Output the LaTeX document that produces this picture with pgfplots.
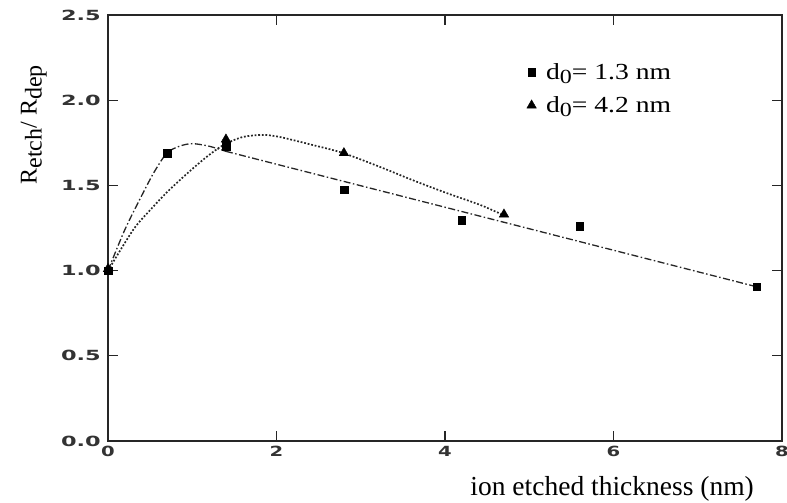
\documentclass[border=0pt]{standalone}
\usepackage{fontspec}
\setmainfont{Liberation Serif}
\newfontfamily\tickfont{DejaVu Sans}
\usepackage{pgfplots}
\pgfplotsset{compat=1.18}

\begin{document}
\begin{tikzpicture}
% fix the page to the reference frame (1px = 1pt)
\useasboundingbox (-108pt,-62pt) rectangle (679pt,441pt);
\begin{axis}[
    scale only axis,
    width=674pt, height=426pt,
    xmin=0, xmax=8, ymin=0, ymax=2.5,
    xtick={0,2,4,6,8}, ytick={0,0.5,1,1.5,2,2.5},
    tick align=inside, major tick length=10pt,
    axis line style={line width=1.6pt, black!85},
    tick style={line width=1.3pt, black!85},
    /pgf/number format/assume math mode=true,
    /pgf/number format/fixed, /pgf/number format/fixed zerofill,
    yticklabel style={/pgf/number format/precision=1, font=\tickfont\bfseries\fontsize{14}{14}\selectfont, text=black!80, xscale=1.6, xshift=-1pt},
    xticklabel style={/pgf/number format/precision=0, font=\tickfont\bfseries\fontsize{14}{14}\selectfont, text=black!80, xscale=1.4, yshift=-2pt},
    xlabel={ion etched thickness (nm)},
    xlabel style={font=\fontsize{27.5}{27.5}\selectfont, at={(axis description cs:0.748,-0.112)}, anchor=center},
    ylabel={R\raisebox{-5pt}{etch}/ R\raisebox{-5pt}{dep}},
    ylabel style={font=\fontsize{24}{24}\selectfont, at={(axis description cs:-0.11,0.742)}, anchor=center},
    legend style={draw=none, fill=none, at={(axis cs:4.92,2.23)}, anchor=north west,
      font=\fontsize{23}{23}\selectfont, row sep=16pt,
      nodes={inner sep=0pt}},
    legend cell align=left,
    legend image code/.code={\path (0,0) (20pt,0); \draw[#1] plot coordinates {(5.7pt,0pt)};},
]
% fitted guides
\addplot[forget plot, line width=1.3pt, black!85, smooth, tension=0.5,
  dash pattern=on 7pt off 2.5pt on 1.5pt off 2.5pt]
  coordinates {(0,1.0) (0.2,1.24) (0.4,1.44) (0.55,1.58) (0.7,1.69) (0.85,1.73) (1.0,1.745) (1.2,1.73) (1.4,1.70)};
\addplot[forget plot, line width=1.3pt, black!85,
  dash pattern=on 7pt off 2.5pt on 1.5pt off 2.5pt]
  coordinates {(1.4,1.70) (7.7,0.905)};
\addplot[forget plot, line width=1.7pt, black!85, smooth, tension=0.5,
  dash pattern=on 1.8pt off 1.8pt]
  coordinates {(0,1.0) (0.30,1.24) (0.50,1.355) (0.70,1.46) (0.94,1.57) (1.17,1.667) (1.37,1.737)
    (1.60,1.784) (1.84,1.796) (2.04,1.784) (2.43,1.737) (2.79,1.69) (3.23,1.608) (3.62,1.53)
    (4.02,1.455) (4.42,1.385) (4.69,1.326)};
% data
\addplot[only marks, mark=square*, mark size=3.8pt, black]
  coordinates {(0,1.0) (0.7,1.69) (1.4,1.73) (2.8,1.475) (4.2,1.297) (5.6,1.262) (7.7,0.905)};
\addlegendentry{\scalebox{1.2}[1]{d\raisebox{-4pt}{\fontsize{20}{20}\selectfont 0}= 1.3 nm}}
\addplot[only marks, mark=triangle*, mark size=5.5pt, black]
  coordinates {(0,1.01) (1.4,1.77) (2.8,1.69) (4.7,1.33)};
\addlegendentry{\scalebox{1.2}[1]{d\raisebox{-4pt}{\fontsize{20}{20}\selectfont 0}= 4.2 nm}}
\end{axis}
\end{tikzpicture}
\end{document}
